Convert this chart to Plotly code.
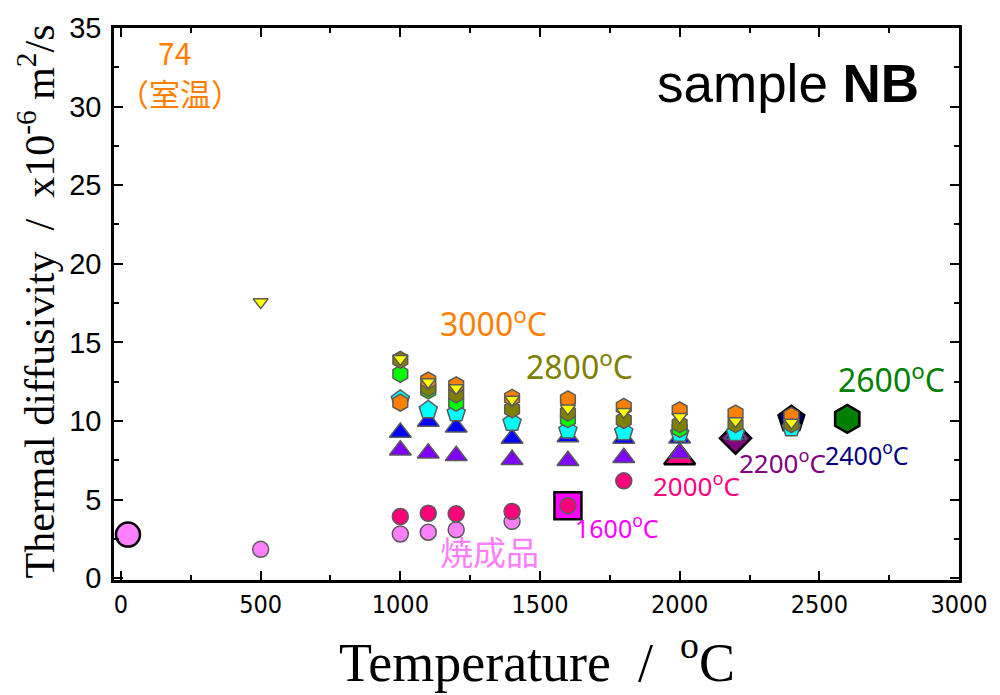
import plotly.graph_objects as go

# ---------------- data ----------------
# heat-treatment-temperature points (large markers)
ht_T = [25, 1600, 2000, 2200, 2400, 2600]
ht_D = [2.77, 4.61, 7.67, 8.90, 10.10, 10.13]

# 焼成品 (as fired) - light pink circles
fired_T = [500, 1000, 1100, 1200, 1400]
fired_D = [1.83, 2.81, 2.92, 3.08, 3.61]

# red-pink circles
red_T = [1000, 1100, 1200, 1400, 1600, 1800]
red_D = [3.92, 4.13, 4.09, 4.24, 4.61, 6.19]

# purple triangles
purple_T = [1000, 1100, 1200, 1400, 1600, 1800, 2000]
purple_D = [8.14, 7.95, 7.79, 7.53, 7.47, 7.66, 7.95]

# blue triangles
blue_T = [1000, 1100, 1200, 1400, 1600, 1800, 2000, 2200]
blue_D = [9.26, 9.97, 9.60, 8.88, 8.98, 8.88, 8.90, 9.15]

# cyan pentagons
cyan_T = [1000, 1100, 1200, 1400, 1600, 1800, 2000, 2200, 2400]
cyan_D = [11.37, 10.70, 10.50, 9.90, 9.40, 9.30, 9.20, 9.24, 9.55]

# green hexagons
green_T = [1000, 1100, 1200, 1600, 2000]
green_D = [12.99, 11.94, 11.16, 10.11, 9.49]

# olive hexagons
olive_T = [1000, 1100, 1200, 1400, 1600, 1800, 2000, 2200, 2400]
olive_D = [13.89, 12.10, 11.69, 10.74, 10.53, 10.05, 9.80, 9.80, 9.80]

# orange hexagons
orange_T = [1000, 1100, 1200, 1400, 1600, 1800, 2000, 2200, 2400]
orange_D = [11.16, 12.57, 12.27, 11.47, 11.37, 10.89, 10.68, 10.47, 10.32]

# yellow down-triangles
yellow_T = [500, 1000, 1100, 1200, 1400, 1600, 1800, 2000, 2200, 2400]
yellow_D = [17.56, 13.95, 12.48, 12.10, 11.37, 10.80, 10.59, 10.26, 10.00, 9.90]

x_ticks = [0, 500, 1000, 1500, 2000, 2500, 3000]
y_ticks = [0, 5, 10, 15, 20, 25, 30, 35]

# ---------------- styles ----------------
ht_symbols = ["circle", "square", "triangle-up", "diamond", "pentagon", "hexagon"]
ht_colors = ["#FF80FF", "#FF00FF", "#FF0080", "#800080", "#000080", "#008000"]
ht_sizes = [24, 27, 27, 24, 27, 28]

EDGE = dict(color="#5a5a5a", width=1.5)

fig = go.Figure()

fig.add_trace(go.Scatter(
    x=ht_T, y=ht_D, mode="markers",
    marker=dict(symbol=ht_symbols, color=ht_colors, size=ht_sizes, opacity=1,
                line=dict(color="black", width=2.5)),
    showlegend=False, hoverinfo="skip"))

small = [
    (fired_T, fired_D, "circle", "#FF80FF", 16),
    (red_T, red_D, "circle", "#FF0078", 16),
    (purple_T, purple_D, "triangle-up", "#8000FF", 19),
    (blue_T, blue_D, "triangle-up", "#0000FF", 19),
    (cyan_T, cyan_D, "pentagon", "#00FFFF", 19),
    (green_T, green_D, "hexagon", "#00FF00", 17),
    (olive_T, olive_D, "hexagon", "#808000", 17),
    (orange_T, orange_D, "hexagon", "#FF8000", 17),
    (yellow_T, yellow_D, "triangle-down", "#FFFF00", 13),
]
for xs, ys, sym, col, sz in small:
    fig.add_trace(go.Scatter(
        x=xs, y=ys, mode="markers",
        marker=dict(symbol=sym, color=col, size=sz, opacity=1, line=EDGE),
        showlegend=False, hoverinfo="skip"))

COMIC = "Noto Sans, DejaVu Sans, sans-serif"
CJK = "Noto Sans CJK JP, sans-serif"

def ann(x, y, text, color, size, family, **kw):
    fig.add_annotation(x=x, y=y, xref="x", yref="y", text=text, showarrow=False,
                       font=dict(color=color, size=size, family=family),
                       xanchor="center", yanchor="middle", **kw)

ann(190, 33.45, "74", "#FF8000", 30, CJK)
ann(210, 30.9, "（室温）", "#FF8000", 31, CJK)
ann(2387, 31.5, "sample <b>NB</b>", "black", 53, "Liberation Sans, Arial, sans-serif")
ann(1335, 16.3, "3000<sup>o</sup>C", "#FF8000", 32, COMIC)
ann(1640, 13.55, "2800<sup>o</sup>C", "#808000", 32, COMIC)
ann(2758, 12.75, "2600<sup>o</sup>C", "#008000", 32, COMIC)
ann(2672, 7.9, "2400<sup>o</sup>C", "#000080", 25, COMIC)
ann(2369, 7.4, "2200<sup>o</sup>C", "#800080", 26, COMIC)
ann(2062, 5.9, "2000<sup>o</sup>C", "#FF0080", 26, COMIC)
ann(1777, 3.3, "1600<sup>o</sup>C", "#FF00FF", 25, COMIC)
ann(1320, 1.7, "焼成品", "#FF80FF", 33, CJK)

# axis titles
fig.add_annotation(x=0.5, y=-0.143, xref="paper", yref="paper",
                   text="Temperature  /  <sup>o</sup>C", showarrow=False,
                   font=dict(family="Liberation Serif, Times New Roman, serif", size=54, color="black"),
                   xanchor="center", yanchor="middle")
fig.add_annotation(x=-0.092, y=0.505, xref="paper", yref="paper",
                   text="Thermal diffusivity  /  x10<sup>-6</sup> m<sup>2</sup>/s", showarrow=False,
                   textangle=-90,
                   font=dict(family="Liberation Serif, Times New Roman, serif", size=42, color="black"),
                   xanchor="center", yanchor="middle")

axis_common = dict(
    showline=True, linecolor="black", linewidth=2.5, mirror="allticks",
    ticks="inside", ticklen=9, tickwidth=2, tickcolor="black",
    showgrid=False, zeroline=False,
)
fig.update_xaxes(range=[-25, 3000], tickmode="array", tickvals=x_ticks,
                 ticktext=[str(v) for v in x_ticks],
                 minor=dict(ticks="inside", ticklen=5, tickwidth=2, tickcolor="black", dtick=250, tick0=0),
                 tickfont=dict(family="DejaVu Sans Condensed, Liberation Sans Narrow, Liberation Sans, Arial, sans-serif", size=25, color="black"),
                 **axis_common)
fig.update_yaxes(range=[-0.12, 35], tickmode="array", tickvals=y_ticks,
                 ticktext=[str(v) for v in y_ticks],
                 minor=dict(ticks="inside", ticklen=5, tickwidth=2, tickcolor="black", dtick=2.5, tick0=0),
                 tickfont=dict(family="Liberation Sans, Arial, sans-serif", size=29, color="black"),
                 ticklabelstandoff=4,
                 **axis_common)

fig.update_layout(
    width=1000, height=695,
    margin=dict(l=114, r=39, t=22, b=115),
    paper_bgcolor="white", plot_bgcolor="white",
)

fig.write_html("out.html")
